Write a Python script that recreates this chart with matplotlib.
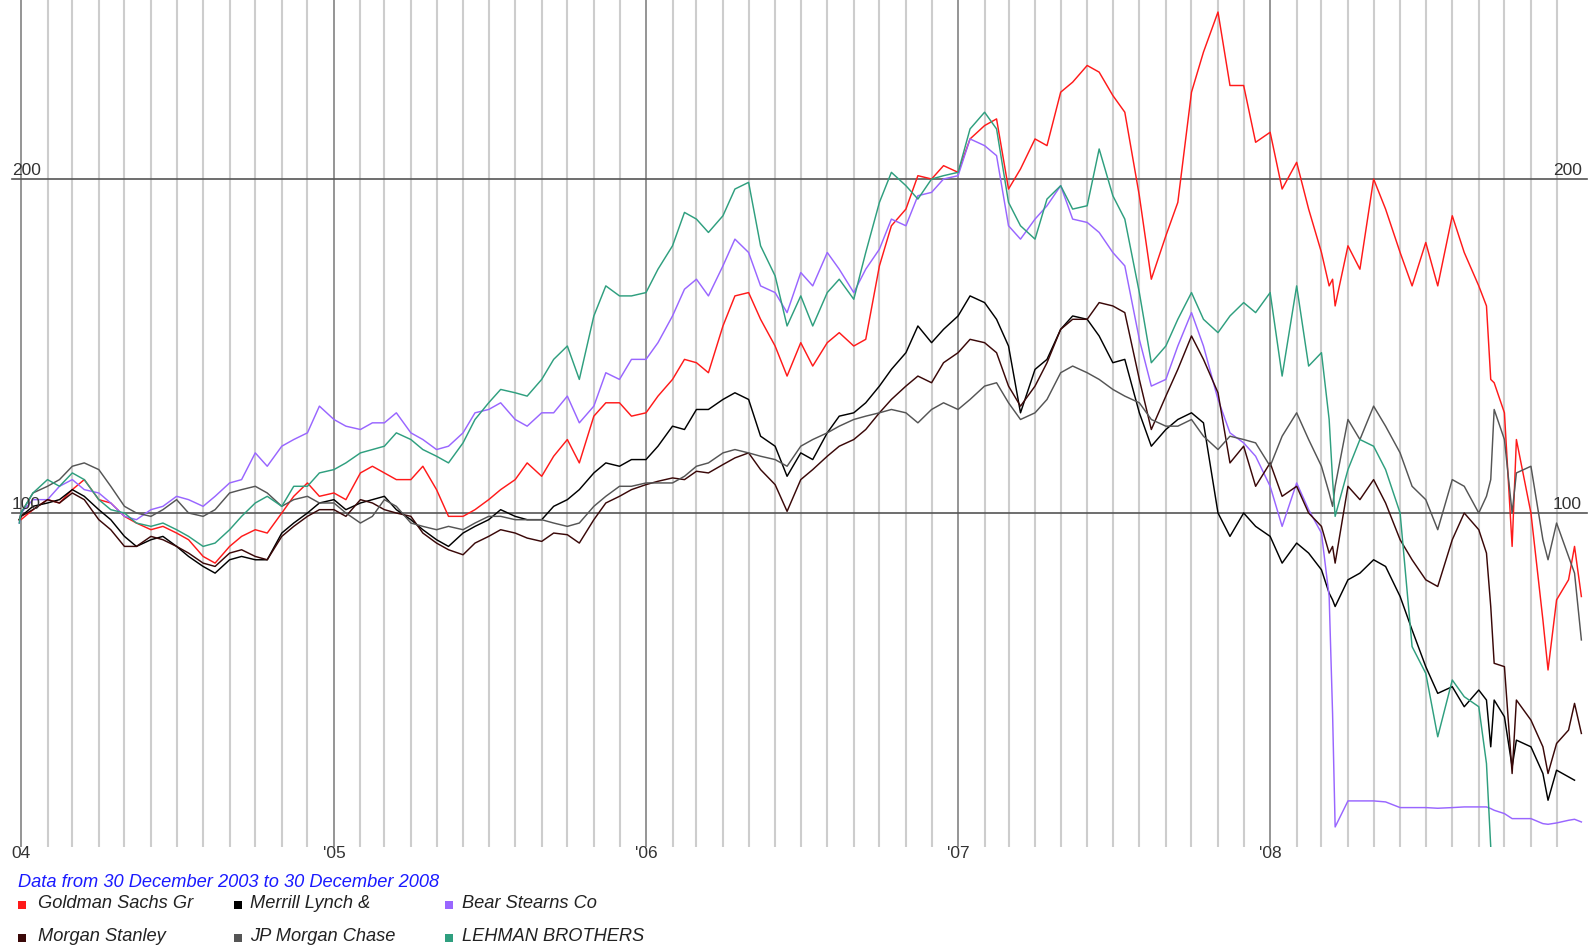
import numpy as np
import matplotlib
matplotlib.use("Agg")
import matplotlib.pyplot as plt
import matplotlib.dates as mdates
import matplotlib.transforms as mtransforms
from matplotlib.patches import Rectangle
from matplotlib import font_manager as fm
import datetime as dt

# ---------------- data ----------------
START_DATE = ["2003-12-30"]
DATES_2004_2007 = [f"{y}-{m:02d}-{d:02d}" for y in range(2004, 2008)
                   for m in range(1, 13) for d in (1, 15)]
DATES_2008 = ["2008-01-01", "2008-01-15", "2008-02-01", "2008-02-15",
              "2008-03-01", "2008-03-10", "2008-03-14", "2008-03-17",
              "2008-04-01", "2008-04-15", "2008-05-01", "2008-05-15",
              "2008-06-01", "2008-06-15", "2008-07-01", "2008-07-15",
              "2008-08-01", "2008-08-15",
              "2008-09-01", "2008-09-10", "2008-09-15", "2008-09-19",
              "2008-10-01", "2008-10-10", "2008-10-15",
              "2008-11-01", "2008-11-15", "2008-11-21",
              "2008-12-01", "2008-12-15", "2008-12-22", "2008-12-30"]
DATES = START_DATE + DATES_2004_2007 + DATES_2008
nan = np.nan

goldman = [98,
    98, 101, 104, 103, 107, 110, 104, 103, 99, 97, 95, 96, 94, 92, 87, 85, 90, 93, 95, 94, 100, 105, 109, 105,
    106, 104, 112, 114, 112, 110, 110, 114, 107, 99, 99, 101, 104, 107, 110, 115, 111, 117, 122, 115, 129, 133, 133, 129,
    130, 135, 140, 146, 145, 142, 156, 165, 166, 158, 150, 141, 151, 144, 151, 154, 150, 152, 174, 186, 191, 201, 200, 204,
    202, 212, 216, 218, 197, 203, 212, 210, 226, 229, 234, 232, 225, 220, 195, 170, 183, 193, 226, 238, 250, 228, 228, 211,
    214, 197, 205, 191, 178, 168, 170, 162, 180, 173, 200, 191, 178, 168, 181, 168, 189, 178,
    168, 162, 140, 139, 130, 90, 122, 100, 68, 53, 74, 80, 90, 75]

merrill = [98,
    99, 102, 103, 104, 107, 105, 101, 98, 93, 90, 92, 93, 90, 87, 84, 82, 86, 87, 86, 86, 94, 97, 100, 103,
    104, 101, 103, 104, 105, 101, 98, 95, 92, 90, 94, 96, 98, 101, 99, 98, 98, 102, 104, 107, 112, 115, 114, 116,
    116, 120, 126, 125, 131, 131, 134, 136, 134, 123, 120, 111, 118, 116, 124, 129, 130, 133, 138, 143, 148, 156, 151, 155,
    159, 165, 163, 158, 150, 130, 143, 146, 155, 159, 158, 153, 145, 146, 130, 120, 125, 128, 130, 127, 100, 93, 100, 96,
    93, 85, 91, 88, 83, 76, 74, 72, 80, 82, 86, 84, 75, 65, 54, 46, 48, 42,
    47, 44, 30, 44, 39, 24, 32, 30, 22, 14, 23, 21, 20, nan]

bear = [97,
    100, 104, 104, 108, 110, 107, 106, 103, 99, 98, 101, 102, 105, 104, 102, 105, 109, 110, 118, 114, 120, 122, 124, 132,
    128, 126, 125, 127, 127, 130, 124, 122, 119, 120, 124, 130, 131, 133, 128, 126, 130, 130, 135, 127, 132, 142, 140, 146,
    146, 151, 159, 167, 170, 165, 174, 182, 178, 168, 166, 160, 172, 168, 178, 173, 166, 173, 179, 188, 186, 195, 196, 200,
    201, 212, 210, 207, 186, 182, 188, 192, 198, 188, 187, 184, 178, 174, 152, 138, 140, 150, 160, 150, 134, 124, 121, 117,
    108, 96, 109, 101, 94, 75, 40, 6, 13.8, 13.8, 13.8, 13.5, 11.8, 11.8, 11.8, 11.6, 11.8, 12,
    12, 12, 11.5, 11, 10, 8.5, 8.5, 8.5, 7, 6.8, 7.2, 8, 8.3, 7.5]

morgan = [98,
    99, 101, 104, 103, 106, 104, 98, 95, 90, 90, 93, 92, 90, 88, 85, 84, 88, 89, 87, 86, 93, 96, 99, 101,
    101, 99, 104, 103, 101, 100, 99, 94, 91, 89, 87.5, 91, 93, 95, 94, 92.5, 91.5, 94, 93.5, 91, 98, 103, 105, 107,
    108.5, 109.5, 110.5, 110, 112.5, 112, 114.5, 116.5, 118, 113, 108.5, 100.5, 110, 113, 117, 120, 122, 125, 130, 134, 138, 141, 139, 145,
    148, 152, 151, 148, 138, 132, 138, 145, 155, 158, 158, 163, 162, 160, 140, 125, 135, 143, 153, 146, 136, 115, 120, 108,
    115, 105, 108, 100, 96, 88, 90, 85, 108, 104, 110, 103, 92, 86, 80, 78, 92, 100,
    95, 88, 72, 55, 54, 22, 44, 38, 30, 22, 31, 35, 43, 34]

jpmorgan = [98,
    100, 106, 108, 110, 114, 115, 113, 108, 102, 100, 99, 101, 104, 100, 99, 101, 106, 107, 108, 106, 102, 104, 105, 103,
    103, 100, 97, 99, 104, 102, 97, 96, 95, 96, 95, 97, 99, 99, 98, 98, 98, 97, 96, 97, 102, 105, 108, 108,
    109, 109, 109, 111, 114, 115, 118, 119, 118, 117, 116, 114, 120, 122, 124, 126, 128, 129, 130, 131, 130, 127, 131, 133,
    131, 134, 138, 139, 133, 128, 130, 134, 142, 144, 142, 140, 137, 135, 133, 128, 126, 126, 128, 123, 119, 123, 122, 121,
    114, 123, 130, 122, 114, 106, 102, 108, 128, 122, 132, 126, 118, 108, 104, 95, 110, 108,
    100, 105, 110, 131, 122, 100, 112, 114, 92, 86, 97, 87, 82, 62]

lehman = [97,
    100, 106, 110, 108, 112, 110, 104, 101, 100, 97, 96, 97, 95, 93, 90, 91, 95, 99, 103, 105, 102, 108, 108, 112,
    113, 115, 118, 119, 120, 124, 122, 119, 117, 115, 121, 128, 133, 137, 136, 135, 140, 146, 150, 140, 159, 168, 165, 165,
    166, 173, 180, 190, 188, 184, 189, 197, 199, 180, 171, 156, 165, 156, 166, 170, 164, 178, 193, 202, 198, 194, 200, 201,
    202, 215, 220, 215, 193, 186, 182, 194, 198, 191, 192, 209, 195, 188, 166, 145, 150, 158, 166, 158, 154, 159, 163, 160,
    166, 141, 168, 144, 148, 128, 110, 99, 113, 122, 120, 113, 100, 60, 52, 33, 50, 45,
    42, 25, 0, nan, nan, nan, nan, nan, nan, nan, nan, nan, nan, nan]

SERIES_NAMES = ["Goldman Sachs Gr", "Merrill Lynch &", "Bear Stearns Co",
                "Morgan Stanley", "JP Morgan Chase", "LEHMAN BROTHERS"]
SERIES_COLORS = ["#ff1a1a", "#000000", "#9966ff", "#3a0808", "#555555", "#2f9f7f"]
SERIES_VALUES = [goldman, merrill, bear, morgan, jpmorgan, lehman]
YEAR_LABELS = ["04", "'05", "'06", "'07", "'08"]
YEAR_TICKS = ["2004-01-01", "2005-01-01", "2006-01-01", "2007-01-01", "2008-01-01"]
REF_LEVELS = [100, 200]
CAPTION = "Data from 30 December 2003 to 30 December 2008"

# ---------------- fonts ----------------
names = {f.name for f in fm.fontManager.ttflist}
if "Liberation Sans Narrow" in names:
    FONT, FS = "Liberation Sans Narrow", 1.12
else:
    FONT, FS = "Liberation Sans", 0.94
plt.rcParams["font.family"] = [FONT, "DejaVu Sans"]

W, H, DPI = 1593, 947, 100
fig = plt.figure(figsize=(W / DPI, H / DPI), dpi=DPI)
fig.patch.set_facecolor("white")

AX_BOTTOM_PX = 847
ax = fig.add_axes([0, (H - AX_BOTTOM_PX) / H, 1, AX_BOTTOM_PX / H])
ax.set_axis_off()

base = mdates.date2num(dt.datetime(2004, 1, 1))
PX0, PX_PER_DAY = 21.0, 0.855
ax.set_xlim(base - PX0 / PX_PER_DAY, base + (W - PX0) / PX_PER_DAY)
ax.set_ylim(0, 253.6)

x = mdates.datestr2num(DATES)

# monthly grid
for yr in range(2004, 2009):
    for m in range(1, 13):
        d = mdates.date2num(dt.datetime(yr, m, 1))
        if m == 1:
            ax.axvline(d, color="#8c8c8c", lw=1.3, zorder=0)
        else:
            ax.axvline(d, color="#cdcdcd", lw=1.5, zorder=0)

bt = mtransforms.blended_transform_factory(ax.transAxes, ax.transData)
for lv in REF_LEVELS:
    ax.axhline(lv, xmin=12 / W, xmax=1587 / W, color="#555555", lw=1.2, zorder=1)
    ax.text(12 / W, lv + 1.3, str(lv), transform=bt, ha="left", va="baseline",
            fontsize=12.5, color="#333333", zorder=5)
    ax.text(1582 / W, lv + 1.3, str(lv), transform=bt, ha="right", va="baseline",
            fontsize=12.5, color="#333333", zorder=5)

for vals, col in zip(SERIES_VALUES, SERIES_COLORS):
    ax.plot(x, np.array(vals, dtype=float), color=col, lw=1.05, zorder=3, clip_on=True)

# year labels
tb = mtransforms.blended_transform_factory(ax.transData, fig.transFigure)
for lab, d in zip(YEAR_LABELS, YEAR_TICKS):
    ax.text(mdates.datestr2num(d), 1 - 853 / H, lab, transform=tb, ha="center", va="center",
            fontsize=12.5, color="#333333", clip_on=False)

# legend / caption
def fx(px):
    return px / W

def fy(py):
    return 1 - py / H

fig.text(fx(18), fy(882), CAPTION, color="#1a1aff", style="italic", fontsize=14 * FS,
         ha="left", va="center")
cols_sq = [18, 234, 445]
cols_tx = [38, 250, 462]
rows_y = [903, 936]
for i, (name, col) in enumerate(zip(SERIES_NAMES, SERIES_COLORS)):
    r, c = divmod(i, 3)
    yc = rows_y[r]
    fig.add_artist(Rectangle((fx(cols_sq[c]), fy(yc + 6)), 8 / W, 8 / H, transform=fig.transFigure,
                             facecolor=col, edgecolor="none"))
    fig.text(fx(cols_tx[c]), fy(yc), name, color="#222222", style="italic", fontsize=14 * FS,
             ha="left", va="center")

fig.savefig("out.png", dpi=DPI, facecolor="white")
